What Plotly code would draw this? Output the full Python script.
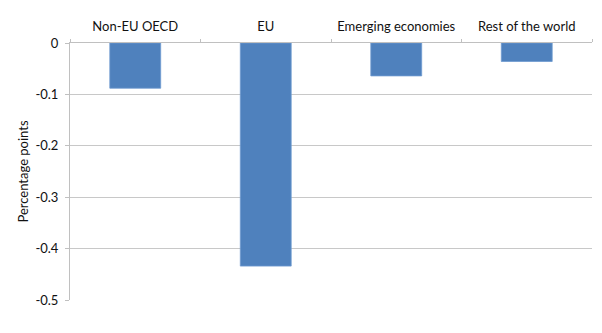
import plotly.graph_objects as go

categories = ["Non-EU OECD", "EU", "Emerging economies", "Rest of the world"]
values = [-0.088, -0.434, -0.064, -0.036]
y_ticks = [0, -0.1, -0.2, -0.3, -0.4, -0.5]
y_tick_labels = ["0", "-0.1", "-0.2", "-0.3", "-0.4", "-0.5"]

fig = go.Figure(go.Bar(
    x=categories, y=values,
    marker=dict(color="#4F81BD", line=dict(color="#6f9bd0", width=0.8)),
    width=0.39,
))

fig.update_layout(
    width=602, height=333,
    margin=dict(l=70, r=10, t=43, b=33),
    paper_bgcolor="white", plot_bgcolor="white",
    font=dict(family="Lato, Liberation Sans, sans-serif", size=13, color="#111111"),
    showlegend=False,
    bargap=0.61,
)
fig.update_xaxes(
    side="top", showline=True, linecolor="#c0c0c0", linewidth=1,
    ticks="outside", tickson="boundaries", ticklen=3, tickcolor="#c0c0c0",
    showgrid=False, tickangle=0, automargin=False, ticklabelstandoff=6,
)
fig.update_yaxes(
    range=[-0.5, 0], tickvals=y_ticks, ticktext=y_tick_labels,
    showgrid=True, gridcolor="#c8c8c8", gridwidth=1,
    showline=True, linecolor="#c0c0c0", linewidth=1,
    ticks="outside", ticklen=4, tickcolor="#c0c0c0",
    zeroline=False, automargin=False, ticklabelstandoff=4,
    title=dict(text="Percentage points", standoff=3, font=dict(size=13)),
)

fig.write_html("out.html")
